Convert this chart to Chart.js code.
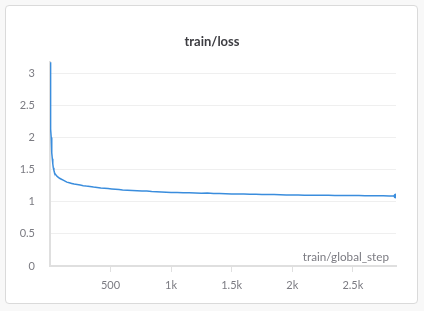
<!DOCTYPE html>
<html>
<head>
<meta charset="utf-8">
<script src="https://cdn.jsdelivr.net/npm/chart.js@4.4.1/dist/chart.umd.min.js"></script>
<style>
  html, body { margin: 0; padding: 0; }
  body { width: 424px; height: 311px; background: #f8f8f8; position: relative; overflow: hidden; }
  #panel {
    position: absolute; left: 5px; top: 5px; width: 411px; height: 297px;
    background: #ffffff; border: 1px solid #dadada; border-radius: 4px;
  }
  #chart { position: absolute; left: 0; top: 0; }
</style>
</head>
<body>
<div id="panel"></div>
<canvas id="chart" width="424" height="311"></canvas>
<script>
// training steps at which the loss was logged
const steps = [
  1, 3, 5, 7, 9, 11, 14, 17, 20, 24, 28, 33, 38, 45, 52, 60, 70, 80, 95, 110,
  125, 140, 160, 180, 200, 225, 250, 275, 300, 330, 360, 390, 420, 450, 480, 510,
  540, 570, 600, 640, 680, 720, 760, 800, 840, 880, 920, 960, 1000, 1050, 1100,
  1150, 1200, 1250, 1300, 1350, 1400, 1450, 1500, 1550, 1600, 1650, 1700, 1750,
  1800, 1850, 1900, 1950, 2000, 2050, 2100, 2150, 2200, 2250, 2300, 2350, 2400,
  2450, 2500, 2550, 2600, 2650, 2700, 2750, 2800, 2856
];

// train/loss value at each logged step
const loss = [
  3.17, 2.86, 2.56, 2.31, 2.13, 2.00, 1.87, 1.76, 1.67, 1.59, 1.53, 1.49, 1.455, 1.43, 1.41, 1.395, 1.38, 1.365, 1.35, 1.335,
  1.32, 1.305, 1.295, 1.285, 1.275, 1.268, 1.26, 1.25, 1.243, 1.236, 1.228, 1.222, 1.215, 1.21, 1.204, 1.199,
  1.195, 1.19, 1.184, 1.18, 1.175, 1.171, 1.166, 1.168, 1.16, 1.157, 1.153, 1.149, 1.145, 1.143, 1.14,
  1.139, 1.136, 1.133, 1.135, 1.129, 1.127, 1.124, 1.122, 1.12, 1.121, 1.117, 1.115, 1.113,
  1.111, 1.112, 1.108, 1.106, 1.105, 1.103, 1.101, 1.102, 1.1, 1.099, 1.1, 1.098, 1.097,
  1.096, 1.095, 1.096, 1.094, 1.093, 1.092, 1.091, 1.09, 1.089
];

const xTickValues = [500, 1000, 1500, 2000, 2500];
const xTickLabels = ['500', '1k', '1.5k', '2k', '2.5k'];
const yTickValues = [0, 0.5, 1, 1.5, 2, 2.5, 3];
const yTickLabels = ['0', '0.5', '1', '1.5', '2', '2.5', '3'];

const FONT = "'Lato', 'Noto Sans', sans-serif";
const LINE_COLOR = '#3a8ddd';
const TEXT_GRAY = '#7b7b82';

// x-axis name drawn inside the plot, bottom right
const axisNamePlugin = {
  id: 'axisName',
  afterDraw(chart) {
    const { ctx, chartArea } = chart;
    ctx.save();
    ctx.font = '11.7px ' + FONT;
    ctx.fillStyle = TEXT_GRAY;
    ctx.textAlign = 'right';
    ctx.textBaseline = 'alphabetic';
    ctx.fillText('train/global_step', chartArea.right - 7, chartArea.bottom - 5);
    ctx.restore();
  }
};

const lastIndex = steps.length - 1;

new Chart(document.getElementById('chart'), {
  type: 'line',
  data: {
    datasets: [{
      label: 'train/loss',
      data: steps.map((s, i) => ({ x: s, y: loss[i] })),
      borderColor: LINE_COLOR,
      backgroundColor: LINE_COLOR,
      borderWidth: 1.5,
      tension: 0,
      pointRadius: (c) => (c.dataIndex === lastIndex ? 2.5 : 0),
      pointHoverRadius: 0,
      pointBorderWidth: 0
    }]
  },
  options: {
    responsive: false,
    animation: false,
    events: [],
    layout: { padding: 0 },
    plugins: {
      legend: { display: false },
      tooltip: { enabled: false },
      title: {
        display: true,
        text: 'train/loss',
        color: '#3d3d42',
        font: { family: FONT, size: 13, weight: 'bold', lineHeight: 1.2 },
        padding: { top: 34, bottom: 12 }
      }
    },
    scales: {
      x: {
        type: 'linear',
        min: steps[0],
        max: steps[lastIndex],
        afterBuildTicks: (s) => { s.ticks = xTickValues.map(v => ({ value: v })); },
        afterFit: (s) => { s.height = 45; },
        ticks: {
          color: TEXT_GRAY,
          font: { family: FONT, size: 11 },
          padding: 7,
          maxRotation: 0,
          autoSkip: false,
          callback: (v) => xTickLabels[xTickValues.indexOf(v)]
        },
        grid: {
          drawOnChartArea: false,
          drawTicks: true,
          tickLength: 6,
          color: '#e0e0e0',
          lineWidth: 1
        },
        border: { display: true, color: '#dfdfdf', width: 2 }
      },
      y: {
        type: 'linear',
        min: 0,
        max: 3.18,
        afterBuildTicks: (s) => { s.ticks = yTickValues.map(v => ({ value: v })); },
        afterFit: (s) => { s.width = 50; },
        ticks: {
          color: TEXT_GRAY,
          font: { family: FONT, size: 11 },
          padding: 15,
          autoSkip: false,
          callback: (v) => yTickLabels[yTickValues.indexOf(v)]
        },
        grid: {
          drawTicks: false,
          color: '#efefef',
          lineWidth: 1
        },
        border: { display: true, color: '#dfdfdf', width: 2 }
      },
      // empty right-hand margin axis (no ticks, no line)
      yMargin: {
        type: 'linear',
        position: 'right',
        display: true,
        afterFit: (s) => { s.width = 28; },
        ticks: { display: false },
        grid: { display: false, drawTicks: false },
        border: { display: false }
      }
    }
  },
  plugins: [axisNamePlugin]
});
</script>
</body>
</html>
